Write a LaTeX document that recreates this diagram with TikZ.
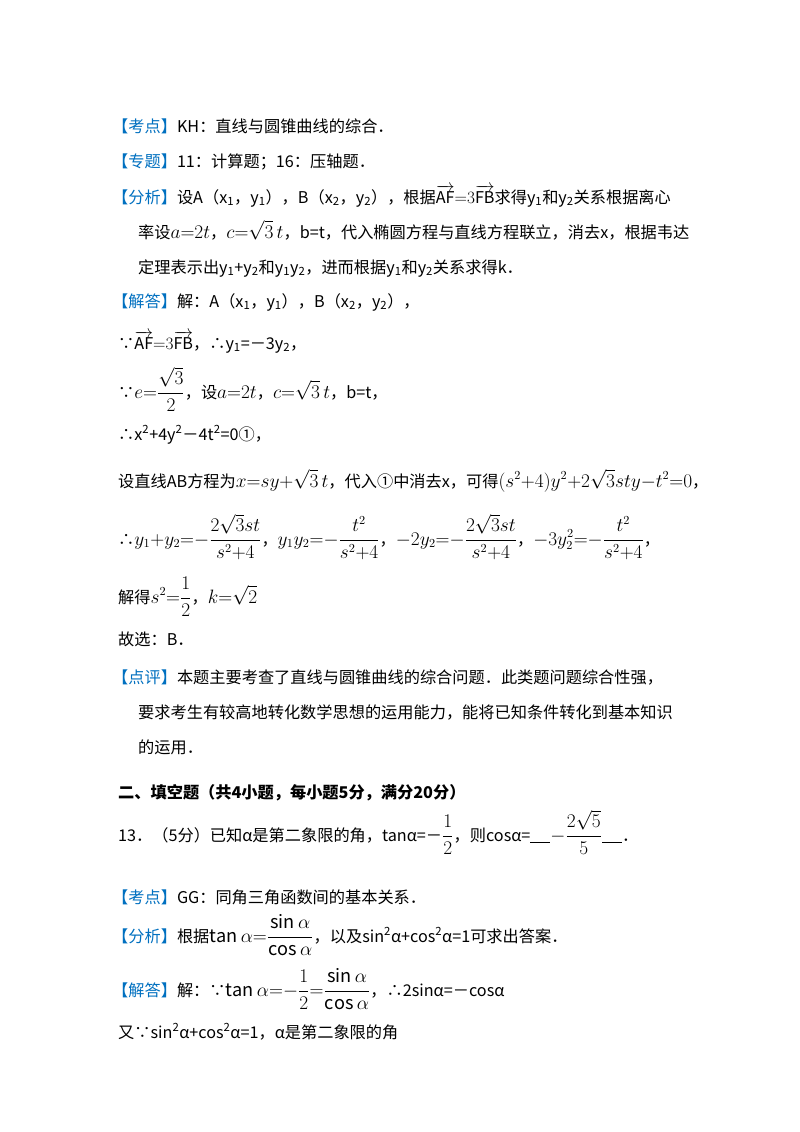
\documentclass[tikz,border=0pt]{standalone}
\usepackage{fontspec}
\usepackage{amsmath}
\setmainfont{Noto Sans CJK SC}
\definecolor{kb}{RGB}{0,112,192}
\newcommand{\tg}[1]{\textcolor{kb}{【#1】}}
\newcommand{\ul}{\rule[-1.5pt]{20pt}{0.6pt}}
\newcommand{\mm}[1]{\scalebox{1.12}{$#1$}}
\begin{document}
\begin{tikzpicture}[x=1pt,y=1pt,every node/.style={anchor=base west,inner sep=0pt,font=\fontsize{16.2}{19}\selectfont}]
\useasboundingbox[fill=white] (0,0) rectangle (800,-1132);
\node (l1) at (112,-132) {\tg{考点}KH：直线与圆锥曲线的综合．};
\node (l2) at (112,-167) {\tg{专题}11：计算题；16：压轴题．};
\node (l3) at (112,-203) {\tg{分析}设A（x\textsubscript{1}，y\textsubscript{1}），B（x\textsubscript{2}，y\textsubscript{2}），根据$\overrightarrow{\mathrm{AF}}{=}3\overrightarrow{\mathrm{FB}}$求得y\textsubscript{1}和y\textsubscript{2}关系根据离心};
\node (l4) at (138,-238) {率设\mm{a{=}2t}，\mm{c{=}\sqrt{3}\,t}，b=t，代入椭圆方程与直线方程联立，消去x，根据韦达};
\node (l5) at (138,-273) {定理表示出y\textsubscript{1}+y\textsubscript{2}和y\textsubscript{1}y\textsubscript{2}，进而根据y\textsubscript{1}和y\textsubscript{2}关系求得k．};
\node (l6) at (112,-307) {\tg{解答}解：A（x\textsubscript{1}，y\textsubscript{1}），B（x\textsubscript{2}，y\textsubscript{2}），};
\node (l7) at (118,-349) {∵$\overrightarrow{\mathrm{AF}}{=}3\overrightarrow{\mathrm{FB}}$，∴y\textsubscript{1}=－3y\textsubscript{2}，};
\node (l8) at (118,-398) {∵\mm{e{=}\dfrac{\sqrt3}{2}}，设\mm{a{=}2t}，\mm{c{=}\sqrt3\,t}，b=t，};
\node (l9) at (118,-440) {∴x\textsuperscript{2}+4y\textsuperscript{2}－4t\textsuperscript{2}=0①，};
\node (l10) at (118,-487) {设直线AB方程为\mm{x{=}sy{+}\sqrt3\,t}，代入①中消去x，可得\mm{(s^2{+}4)y^2{+}2\sqrt3 sty{-}t^2{=}0}，};
\node (l11) at (118,-545) {∴\mm{y_1{+}y_2{=}{-}\dfrac{2\sqrt3 st}{s^2{+}4}}，\mm{y_1y_2{=}{-}\dfrac{t^2}{s^2{+}4}}，\mm{-2y_2{=}{-}\dfrac{2\sqrt3 st}{s^2{+}4}}，\mm{-3y_2^2{=}{-}\dfrac{t^2}{s^2{+}4}}，};
\node (l12) at (118,-603) {解得\mm{s^2{=}\dfrac12}，\mm{k{=}\sqrt2}};
\node (l13) at (118,-645) {故选：B．};
\node (l14) at (112,-683) {\tg{点评}本题主要考查了直线与圆锥曲线的综合问题．此类题问题综合性强，};
\node (l15) at (138,-718) {要求考生有较高地转化数学思想的运用能力，能将已知条件转化到基本知识};
\node (l16) at (138,-753) {的运用．};
\node (l17) at (118,-798) {\textbf{二、填空题（共4小题，每小题5分，满分20分）}};
\node (l18) at (118,-841) {13．（5分）已知α是第二象限的角，tanα=－\mm{\dfrac12}，则cosα=\ul\mm{-\dfrac{2\sqrt5}{5}}\ul．};
\node (l19) at (112,-903) {\tg{考点}GG：同角三角函数间的基本关系．};
\node (l20) at (112,-942) {\tg{分析}根据\mm{\tan\alpha{=}\dfrac{\sin\alpha}{\cos\alpha}}，以及sin\textsuperscript{2}α+cos\textsuperscript{2}α=1可求出答案．};
\node (l21) at (112,-996) {\tg{解答}解：∵\mm{\tan\alpha{=}{-}\dfrac12{=}\dfrac{\sin\alpha}{\cos\alpha}}，∴2sinα=－cosα};
\node (l22) at (118,-1038) {又∵sin\textsuperscript{2}α+cos\textsuperscript{2}α=1，α是第二象限的角};
\end{tikzpicture}
\end{document}
